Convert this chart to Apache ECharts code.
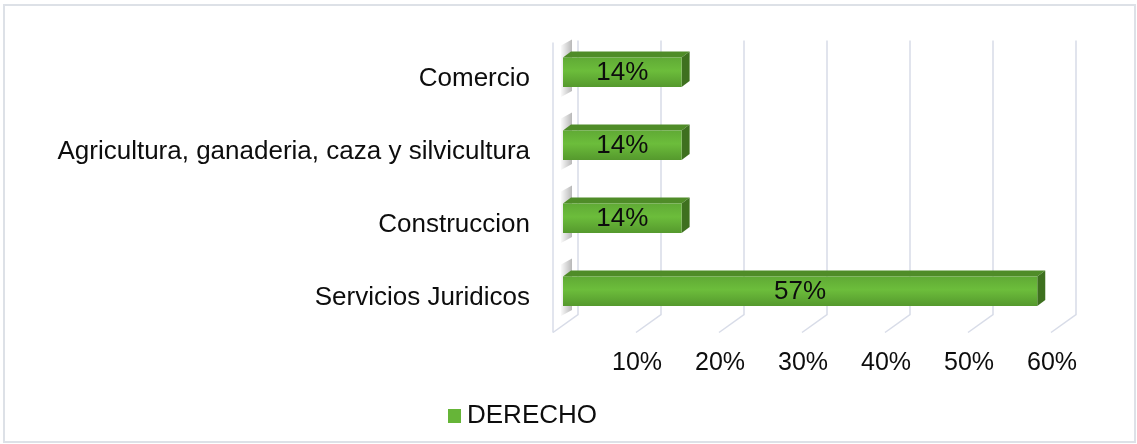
<!DOCTYPE html>
<html>
<head>
<meta charset="utf-8">
<script src="https://cdn.jsdelivr.net/npm/echarts@6/dist/echarts.min.js"></script>
<style>
  html, body { margin: 0; padding: 0; background: #fff; }
  #chart { width: 1137px; height: 444px; }
</style>
</head>
<body>
<div id="chart"></div>
<script>
// categorias de abajo hacia arriba
const categories = ["Servicios Juridicos", "Construccion", "Agricultura, ganaderia, caza y silvicultura", "Comercio"];
const derecho = [57.14, 14.29, 14.29, 14.29];
const ticks = [0, 10, 20, 30, 40, 50, 60];

const font = "Liberation Sans, Arial, sans-serif";
const myChart = echarts.init(document.getElementById("chart"));

const frontFill = new echarts.graphic.LinearGradient(0, 0, 0, 1, [
  { offset: 0, color: "#60aa35" },
  { offset: 0.45, color: "#6cbd3b" },
  { offset: 1, color: "#55992d" },
]);

function renderGrid(params, api) {
  const cs = params.coordSys;
  const x = api.coord([api.value(0), 0])[0];
  const top = cs.y - 2;
  const floorBack = cs.y + cs.height - 20;
  const front = cs.y + cs.height - 2;
  const stroke = { stroke: "#d8dce8", lineWidth: 1.5, fill: null };
  const children = [
    { type: "polyline", shape: { points: [[x + 15, top], [x + 15, floorBack], [x - 10, front]] }, style: stroke },
  ];
  if (api.value(0) === 0) {
    children.push({ type: "line", shape: { x1: x - 10, y1: top + 2, x2: x - 10, y2: front }, style: stroke });
  }
  return { type: "group", children };
}

function renderBar(params, api) {
  const val = api.value(0);
  const start = api.coord([0, api.value(1)]);
  const end = api.coord([val, api.value(1)]);
  const x0 = start[0], x1 = end[0], cy = start[1];
  const ft = cy - 21.5, fb = cy + 8;
  const dx = 8, dy = -6;
  return {
    type: "group",
    children: [
      {
        type: "polygon",
        shape: { points: [[x0 - 2, ft - 12], [x0 + 9, ft - 18], [x0 + 9, fb + 4], [x0 - 2, fb + 10]] },
        style: {
          fill: new echarts.graphic.LinearGradient(0, 0, 1, 0, [
            { offset: 0, color: "rgba(0,0,0,0.02)" },
            { offset: 1, color: "rgba(0,0,0,0.28)" },
          ]),
        },
      },
      {
        type: "polygon",
        shape: { points: [[x0, ft], [x1, ft], [x1 + dx, ft + dy], [x0 + dx, ft + dy]] },
        style: { fill: "#4f8c28" },
      },
      {
        type: "polygon",
        shape: { points: [[x1, ft], [x1 + dx, ft + dy], [x1 + dx, fb + dy], [x1, fb]] },
        style: { fill: "#3e701f" },
      },
      {
        type: "rect",
        shape: { x: x0, y: ft, width: x1 - x0, height: fb - ft },
        style: { fill: frontFill },
      },
      {
        type: "text",
        x: (x0 + x1) / 2,
        y: (ft + fb) / 2 + 1,
        style: {
          text: Math.round(val) + "%",
          fontSize: 26,
          fontFamily: font,
          fill: "#0d0d0d",
          align: "center",
          verticalAlign: "middle",
        },
      },
    ],
  };
}

const option = {
  animation: false,
  backgroundColor: "#fff",
  graphic: [
    {
      type: "rect",
      shape: { x: 4, y: 5, width: 1131, height: 437 },
      style: { fill: null, stroke: "#dde1e7", lineWidth: 2 },
      silent: true,
    },
  ],
  grid: { left: 563, top: 42.5, width: 498, bottom: 109.5 },
  xAxis: {
    type: "value",
    min: 0,
    max: 60,
    interval: 10,
    axisLine: { show: false },
    axisTick: { show: false },
    splitLine: { show: false },
    axisLabel: {
      margin: 16,
      formatter: (v) => (v === 0 ? "" : "{a|" + v + "%}"),
      rich: { a: { fontSize: 25, fontFamily: font, color: "#0d0d0d", padding: [0, 18, 0, 0] } },
    },
  },
  yAxis: {
    type: "category",
    data: categories,
    axisLine: { show: false },
    axisTick: { show: false },
    axisLabel: { margin: 33, fontSize: 26, fontFamily: font, color: "#0d0d0d" },
  },
  legend: {
    data: ["DERECHO"],
    left: 443,
    top: 398,
    icon: "rect",
    itemWidth: 13,
    itemHeight: 14,
    textStyle: { fontSize: 26, fontFamily: font, color: "#0d0d0d", padding: [0, 0, 0, 1] },
  },
  series: [
    {
      name: "grid",
      type: "custom",
      silent: true,
      z: 1,
      renderItem: renderGrid,
      encode: { x: 0, y: 1 },
      data: ticks.map((t) => [t, 0]),
    },
    {
      name: "DERECHO",
      type: "custom",
      z: 2,
      renderItem: renderBar,
      encode: { x: 0, y: 1 },
      itemStyle: { color: "#66b538" },
      data: derecho.map((v, i) => [v, i]),
    },
  ],
};

myChart.setOption(option);
</script>
</body>
</html>
